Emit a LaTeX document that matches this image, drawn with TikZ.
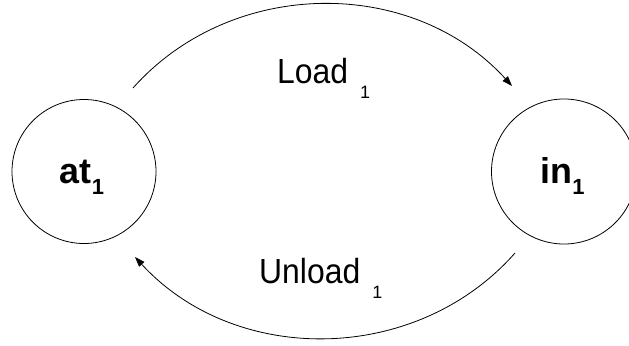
\documentclass[tikz,border=0pt]{standalone}
\usepackage{fontspec}
\setmainfont{Liberation Sans}
\usetikzlibrary{arrows.meta}

\tikzset{
  state/.style={draw, circle, line width=0.8bp, inner sep=0pt, minimum size=#1},
  statetext/.style={font=\fontsize{36}{40}\selectfont\bfseries, inner sep=0pt, anchor=base},
  lbl/.style={font=\fontsize{35}{40}\selectfont, inner sep=0pt, anchor=base west},
  trans/.style={line width=0.8bp, -{Triangle[length=10bp,width=7bp]}}
}
% subscripts
\newcommand{\statesub}[1]{\raisebox{-11bp}{\fontsize{22}{24}\selectfont\bfseries #1}}
\newcommand{\transword}[1]{\scalebox{0.915}[1]{#1}}
\newcommand{\transsub}[1]{\hspace{12bp}\raisebox{-15bp}{\fontsize{18}{20}\selectfont #1}}

\begin{document}
\begin{tikzpicture}[x=1bp, y=1bp]
  \useasboundingbox (0,0) rectangle (629,345);

  % states
  \node[state=144bp] (at) at (84,173.5) {};
  \node[state=145bp] (in) at (564,173.5) {};
  \node[statetext] (attext) at (82,162) {at\statesub{1}};
  \node[statetext] (intext) at (562.5,162) {in\statesub{1}};

  % transition end points
  \coordinate (loadstart) at (133,257);
  \coordinate (loadend)   at (512,259);
  \coordinate (unloadstart) at (515,92);
  \coordinate (unloadend)   at (135,88);

  % transitions
  \draw[trans] (loadstart) to[bend left=48] (loadend);
  \draw[trans] (unloadstart) to[bend left=48] (unloadend);

  % transition labels
  \node[lbl] (loadlbl) at (277,262) {\transword{Load}\transsub{1}};
  \node[lbl] (unloadlbl) at (259,62) {\transword{Unload}\transsub{1}};
\end{tikzpicture}
\end{document}
